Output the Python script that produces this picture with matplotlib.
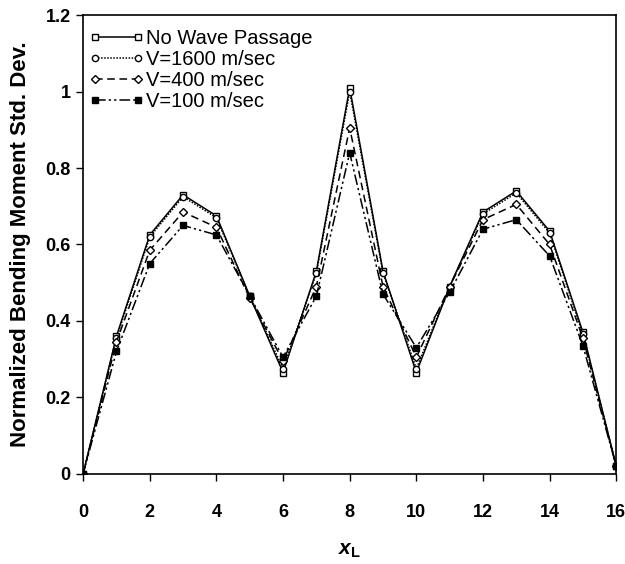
import matplotlib.pyplot as plt

# girder positions and normalised bending moment std. dev. for each case
x_pos = [0, 1, 2, 3, 4, 5, 6, 7, 8, 9, 10, 11, 12, 13, 14, 15, 16]
no_wave = [0, 0.36, 0.625, 0.73, 0.675, 0.465, 0.265, 0.53, 1.01, 0.53, 0.265, 0.49, 0.685, 0.74, 0.635, 0.37, 0.02]
v1600 = [0, 0.355, 0.62, 0.725, 0.67, 0.465, 0.275, 0.525, 1.0, 0.525, 0.275, 0.49, 0.68, 0.735, 0.63, 0.365, 0.02]
v400 = [0, 0.345, 0.585, 0.685, 0.645, 0.46, 0.295, 0.49, 0.905, 0.49, 0.305, 0.49, 0.665, 0.705, 0.6, 0.355, 0.02]
v100 = [0, 0.32, 0.55, 0.65, 0.625, 0.465, 0.305, 0.465, 0.84, 0.47, 0.33, 0.475, 0.64, 0.665, 0.57, 0.335, 0.02]
labels = ["No Wave Passage", "V=1600 m/sec", "V=400 m/sec", "V=100 m/sec"]

plt.rcParams['font.family'] = ['Liberation Sans', 'DejaVu Sans']
plt.rcParams['mathtext.fontset'] = 'custom'
plt.rcParams['mathtext.rm'] = 'Liberation Sans'
plt.rcParams['mathtext.bf'] = 'Liberation Sans:bold'
plt.rcParams['mathtext.bfit'] = 'Liberation Sans:italic:bold'

fig = plt.figure(figsize=(6.25, 5.64), dpi=100)
ax = fig.add_axes([0.133, 0.16, 0.853, 0.813])

common = dict(color="black", lw=1.1, markersize=4.5, markeredgewidth=1.0)
ax.plot(x_pos, no_wave, ls="-", marker="s", mfc="white", label=labels[0], **common)
ax.plot(x_pos, v1600, ls=(0, (1, 1)), marker="o", mfc="white", label=labels[1], **common)
ax.plot(x_pos, v400, ls=(0, (5, 3)), marker="D", mfc="white", label=labels[2], **common)
ax.plot(x_pos, v100, ls=(0, (7, 2, 1.5, 2, 1.5, 2)), marker="s", mfc="black", label=labels[3], **common)

ax.set_xlim(0, 16)
ax.set_ylim(0, 1.2)
ax.set_xticks(range(0, 17, 2))
ax.set_yticks([0, 0.2, 0.4, 0.6, 0.8, 1.0, 1.2])
ax.set_yticklabels(["0", "0.2", "0.4", "0.6", "0.8", "1", "1.2"])

ax.tick_params(axis="x", direction="out", length=5, width=1, pad=17, labelsize=13)
ax.tick_params(axis="y", direction="out", length=5, width=1, pad=4, labelsize=13)
for lab in ax.get_xticklabels() + ax.get_yticklabels():
    lab.set_fontweight("bold")
for sp in ax.spines.values():
    sp.set_linewidth(1.2)

ax.set_xlabel(r"$\mathbfit{x}_{\mathbf{L}}$", fontsize=15, labelpad=14)
ax.set_ylabel("Normalized Bending Moment Std. Dev.", fontsize=16, fontweight="bold", labelpad=10)

ax.legend(loc="upper left", bbox_to_anchor=(0.0, 0.983), frameon=False, fontsize=14.5,
          handlelength=2.7, handletextpad=0.1, labelspacing=0.1, borderaxespad=0.0,
          borderpad=0.3, numpoints=2)

fig.savefig("out.png", dpi=100)
